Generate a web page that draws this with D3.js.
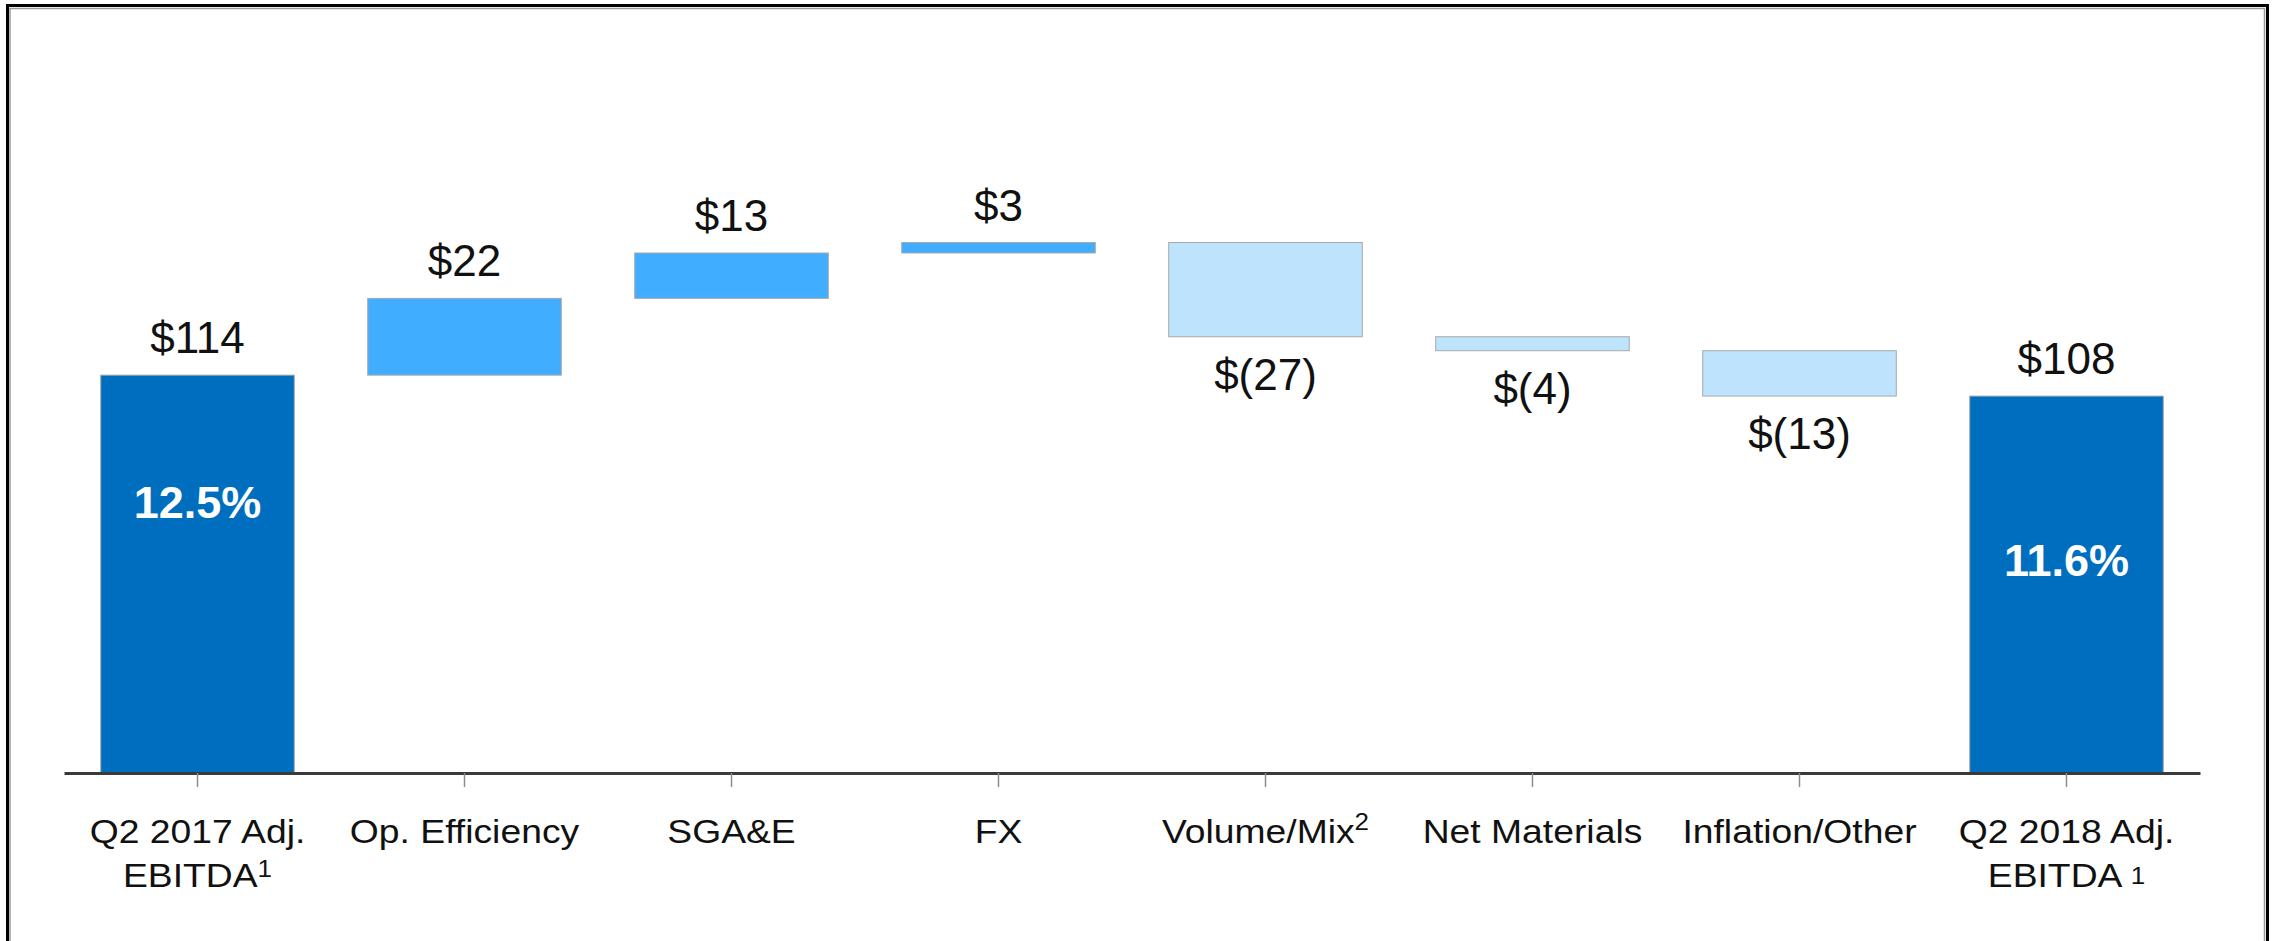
<!DOCTYPE html>
<html>
<head>
<meta charset="utf-8">
<script src="https://cdn.jsdelivr.net/npm/d3@7"></script>
<style>
  html, body { margin: 0; padding: 0; background: #fff; }
  svg { display: block; font-family: Arial, "Liberation Sans", sans-serif; }
</style>
</head>
<body>
<div id="chart"></div>
<script>
// Waterfall: Q2 2017 -> Q2 2018 Adj. EBITDA bridge
const CATEGORIES = ['q2_2017', 'op_eff', 'sgae', 'fx', 'vol_mix', 'net_mat', 'infl_other', 'q2_2018'];
const LINE1 = ['Q2 2017 Adj.', 'Op. Efficiency', 'SGA&E', 'FX', 'Volume/Mix', 'Net Materials', 'Inflation/Other', 'Q2 2018 Adj.'];
const LINE2 = ['EBITDA', '', '', '', '', '', '', 'EBITDA '];
const SUP1 = ['', '', '', '', '2', '', '', ''];
const SUP2 = ['1', '', '', '', '', '', '', '1'];
const VALUES = [114, 22, 13, 3, -27, -4, -13, 108];
const KINDS = ['total', 'up', 'up', 'up', 'down', 'down', 'down', 'total'];
const VALUE_LABELS = ['$114', '$22', '$13', '$3', '$(27)', '$(4)', '$(13)', '$108'];
const MARGIN_LABELS = ['12.5%', '', '', '', '', '', '', '11.6%'];

const W = 2272, H = 941;
const AXIS_Y = 773;
const COLORS = { total: '#006ebf', up: '#41adff', down: '#bee3fd' };
// baseline offset of the margin % label below each total bar's top
const PCT_DY = [143, 0, 0, 0, 0, 0, 0, 180];
// category labels in the source are a bit wider than plain Arial
const LABEL_STRETCH = 1.13;

// running start / end for each bar
let run = 0;
const bars = CATEGORIES.map((c, i) => {
  let y0, y1;
  if (KINDS[i] === 'total') { y0 = 0; y1 = VALUES[i]; run = VALUES[i]; }
  else { y0 = run; y1 = run + VALUES[i]; run = y1; }
  return { key: c, i, lo: Math.min(y0, y1), hi: Math.max(y0, y1), kind: KINDS[i] };
});

const svg = d3.select('#chart').append('svg')
  .attr('width', W).attr('height', H);

svg.append('rect').attr('width', W).attr('height', H).attr('fill', '#fff');

// frame: thin grey inner line + black outer line
svg.append('path')
  .attr('d', 'M10,941 V8.5 H2264.5 V941')
  .attr('fill', 'none').attr('stroke', '#9a9a9a').attr('stroke-width', 1.5);
svg.append('path')
  .attr('d', 'M7.5,941 V5.5 H2267.5 V941')
  .attr('fill', 'none').attr('stroke', '#000').attr('stroke-width', 3);

const x = d3.scaleBand()
  .domain(CATEGORIES)
  .range([64, 2200])
  .paddingInner(0.275)
  .paddingOuter(0.1375);

const y = d3.scaleLinear()
  .domain([0, 200])
  .range([AXIS_Y, 75]);

// bars
svg.append('g').selectAll('rect')
  .data(bars)
  .join('rect')
  .attr('x', d => x(d.key))
  .attr('width', x.bandwidth())
  .attr('y', d => y(d.hi))
  .attr('height', d => y(d.lo) - y(d.hi))
  .attr('fill', d => COLORS[d.kind])
  .attr('stroke', '#a9a9a9')
  .attr('stroke-width', 1);

// axis
const axis = svg.append('g')
  .attr('transform', `translate(0,${AXIS_Y})`)
  .call(d3.axisBottom(x).tickSize(14).tickSizeOuter(0).tickFormat(''));
axis.select('.domain').attr('stroke', '#3a3a3a').attr('stroke-width', 3);
axis.selectAll('.tick line').attr('stroke', '#8c8c8c').attr('stroke-width', 1.5);

// value labels
svg.append('g').selectAll('text')
  .data(bars)
  .join('text')
  .attr('x', d => x(d.key) + x.bandwidth() / 2)
  .attr('y', d => d.kind === 'down' ? y(d.lo) + 53 : y(d.hi) - 22)
  .attr('text-anchor', 'middle')
  .style('font-size', '44px')
  .style('fill', '#111')
  .text(d => VALUE_LABELS[d.i]);

// margin % labels inside total bars
svg.append('g').selectAll('text')
  .data(bars.filter(d => MARGIN_LABELS[d.i]))
  .join('text')
  .attr('x', d => x(d.key) + x.bandwidth() / 2)
  .attr('y', d => y(d.hi) + PCT_DY[d.i])
  .attr('text-anchor', 'middle')
  .style('font-size', '45px')
  .style('font-weight', 'bold')
  .style('fill', '#fff')
  .text(d => MARGIN_LABELS[d.i]);

// category labels
const lab = svg.append('g').selectAll('g')
  .data(bars)
  .join('g')
  .attr('transform', d => `translate(${x(d.key) + x.bandwidth() / 2},0) scale(${LABEL_STRETCH},1)`);

const t1 = lab.append('text')
  .attr('y', 843)
  .attr('text-anchor', 'middle')
  .style('font-size', '33px')
  .style('fill', '#111');
t1.append('tspan').text(d => LINE1[d.i]);
t1.filter(d => SUP1[d.i]).append('tspan')
  .attr('dy', -13).style('font-size', '23px').text(d => SUP1[d.i]);

const t2 = lab.filter(d => LINE2[d.i]).append('text')
  .attr('y', 887)
  .attr('text-anchor', 'middle')
  .style('font-size', '33px')
  .style('fill', '#111');
t2.append('tspan').text(d => LINE2[d.i]);
t2.filter(d => SUP2[d.i]).append('tspan')
  .attr('dy', d => d.i === 0 ? -10 : -3).style('font-size', '23px').text(d => SUP2[d.i]);
</script>
</body>
</html>
